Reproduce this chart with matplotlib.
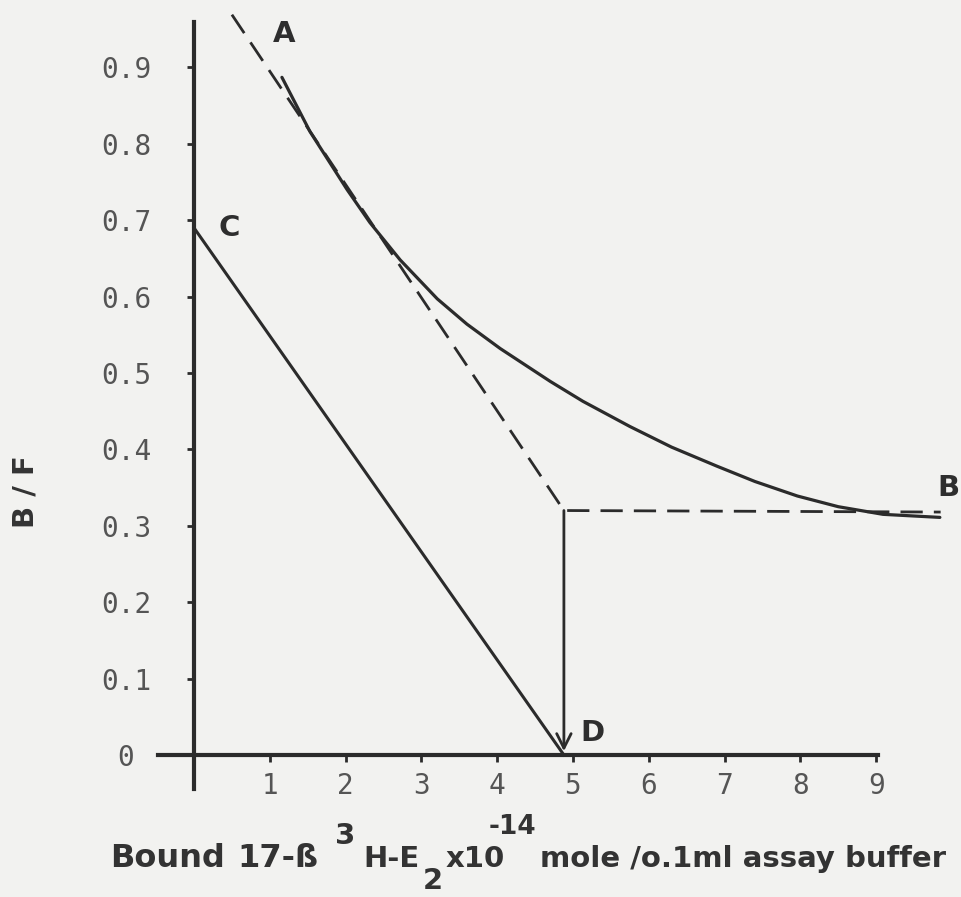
import numpy as np
import matplotlib.pyplot as plt

# B/F saturation curve (x in 1e-14 mole / 0.1 ml)
curve_x = [1.16, 1.53, 2.02, 2.32, 2.72, 3.21, 3.6, 4.04, 4.70, 5.13,
           5.75, 6.3, 6.90, 7.4, 7.96, 8.5, 9.09, 9.84]
curve_y = [0.887, 0.816, 0.740, 0.697, 0.648, 0.597, 0.564, 0.532, 0.489, 0.463,
           0.430, 0.403, 0.378, 0.358, 0.339, 0.325, 0.315, 0.311]

# dashed extrapolation A -> corner -> B
dash_x = [0.50, 4.88, 9.85]
dash_y = [0.969, 0.320, 0.318]

# straight line C -> D
line_x = [0.0, 4.88]
line_y = [0.69, 0.0]

xticks = [1, 2, 3, 4, 5, 6, 7, 8, 9]
yticks = [0, 0.1, 0.2, 0.3, 0.4, 0.5, 0.6, 0.7, 0.8, 0.9]
ytick_labels = ["0", "0.1", "0.2", "0.3", "0.4", "0.5", "0.6", "0.7", "0.8", "0.9"]

point_names = ["A", "B", "C", "D"]
point_x = [1.19, 9.95, 0.47, 5.25]
point_y = [0.944, 0.349, 0.69, 0.029]

# x label pieces: text, font size, left px, baseline px
xlabel_parts = ["Bound", "17-ß", "3", "H-E", "2", "x10", "-14",
                "mole /o.1ml assay buffer"]
xlabel_size = [23, 23, 21, 21, 21, 21, 19, 21]
xlabel_left = [110, 237, 335, 363, 423, 446, 489, 540]
xlabel_base = [867, 867, 844, 867, 889, 867, 834, 867]

W, H = 961, 897
X0, XS = 194, 75.8   # pixel of x=0, pixels per unit
Y0, YS = 755, 764    # pixel of y=0, pixels per unit

ink = "#2b2b2b"
paper = "#f2f2f0"

fig = plt.figure(figsize=(W / 100, H / 100), dpi=100)
fig.patch.set_facecolor(paper)
ax = fig.add_axes([0, 0, 1, 1])
ax.set_facecolor(paper)
ax.set_xlim(-X0 / XS, (W - X0) / XS)
ax.set_ylim(-(H - Y0) / YS, Y0 / YS)

for side in ["top", "right"]:
    ax.spines[side].set_visible(False)
ax.spines["left"].set_position(("data", 0))
ax.spines["bottom"].set_position(("data", 0))
ax.spines["left"].set_bounds(-0.045, 0.96)
ax.spines["bottom"].set_bounds(-0.47, 9.02)
for side in ["left", "bottom"]:
    ax.spines[side].set_linewidth(3)
    ax.spines[side].set_color(ink)

ax.set_xticks(xticks)
ax.set_xticklabels([str(v) for v in xticks], family="DejaVu Sans Mono")
ax.set_yticks(yticks)
ax.set_yticklabels(ytick_labels, family="DejaVu Sans Mono")
ax.tick_params(axis="x", direction="out", length=5, width=2, pad=7,
               labelsize=20, color=ink, labelcolor="#555555")
ax.tick_params(axis="y", direction="out", length=5, width=2, pad=44,
               labelsize=20, color=ink, labelcolor="#555555")
for t in ax.get_yticklabels():
    t.set_horizontalalignment("center")

ax.plot(curve_x, curve_y, color=ink, lw=2.3, solid_capstyle="round",
        solid_joinstyle="round")
ax.plot(dash_x, dash_y, color=ink, lw=2, ls=(0, (8, 4)))
ax.plot(line_x, line_y, color=ink, lw=2.2)
ax.annotate("", xy=(dash_x[1], 0.005), xytext=(dash_x[1], dash_y[1]),
            arrowprops=dict(arrowstyle="->", lw=2, color=ink,
                            mutation_scale=26, shrinkA=0, shrinkB=0))

for name, px, py in zip(point_names, point_x, point_y):
    ax.text(px, py, name, fontsize=21, fontweight="heavy", color="#2e2e2e",
            ha="center", va="center")

for s, fs, lx, by in zip(xlabel_parts, xlabel_size, xlabel_left, xlabel_base):
    fig.text(lx / W, 1 - by / H, s, fontsize=fs, fontweight="bold",
             color="#333333", ha="left", va="baseline")

fig.text(26 / W, 1 - 492 / H, "B / F", rotation=90, fontsize=21,
         fontweight="bold", color="#333333", ha="center", va="center")

fig.savefig("out.png", dpi=100, facecolor=paper)
